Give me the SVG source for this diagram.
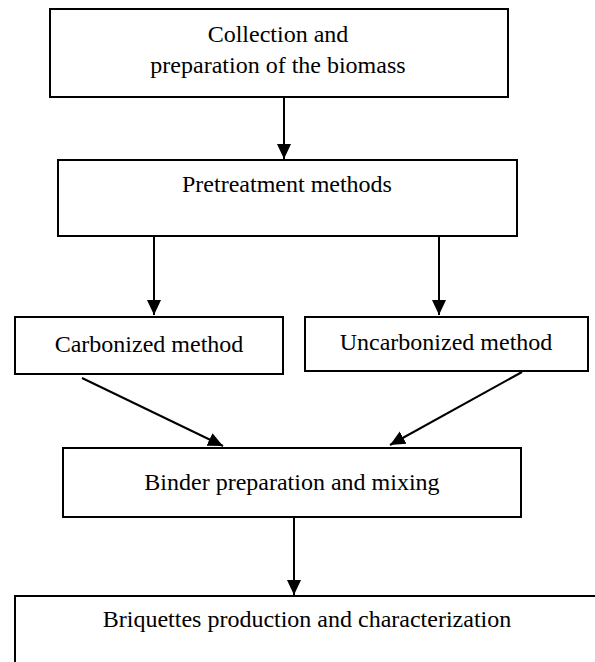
<svg xmlns="http://www.w3.org/2000/svg" width="595" height="662" viewBox="0 0 595 662">
<style>
.box{fill:#fff;stroke:#000;stroke-width:2}
.t{font-family:"Liberation Serif","Times New Roman",serif;font-size:24px;fill:#000;text-anchor:middle}
.c{stroke:#000;stroke-width:2;fill:none;marker-end:url(#ah)}
</style>
<defs>
<marker id="ah" markerUnits="userSpaceOnUse" markerWidth="16" markerHeight="16" viewBox="0 0 16 16" refX="15" refY="8" orient="auto">
<path d="M0,1 L15,8 L0,15 Z" fill="#000"/>
</marker>
</defs>
<rect width="595" height="662" fill="#fff"/>
<g id="connectors">
<line class="c" x1="284" y1="97" x2="284" y2="159"/>
<line class="c" x1="154" y1="236" x2="154" y2="315"/>
<line class="c" x1="439" y1="236" x2="439" y2="315"/>
<line class="c" x1="82" y1="378" x2="223" y2="446"/>
<line class="c" x1="522" y1="372" x2="390" y2="445"/>
<line class="c" x1="294" y1="517" x2="294" y2="595"/>
</g>
<g id="n1"><rect class="box" x="50" y="9" width="458" height="88"/>
<text class="t" x="278" y="42">Collection and</text>
<text class="t" x="278" y="73">preparation of the biomass</text></g>
<g id="n2"><rect class="box" x="58" y="160" width="459" height="76"/>
<text class="t" x="287" y="192">Pretreatment methods</text></g>
<g id="n3"><rect class="box" x="15" y="317" width="268" height="57"/>
<text class="t" x="149" y="352">Carbonized method</text></g>
<g id="n4"><rect class="box" x="305" y="317" width="283" height="54"/>
<text class="t" x="446" y="350">Uncarbonized method</text></g>
<g id="n5"><rect class="box" x="63" y="448" width="458" height="69"/>
<text class="t" x="292" y="490">Binder preparation and mixing</text></g>
<g id="n6"><rect class="box" x="15" y="596" width="585" height="80"/>
<text class="t" x="307" y="627">Briquettes production and characterization</text></g>
</svg>
